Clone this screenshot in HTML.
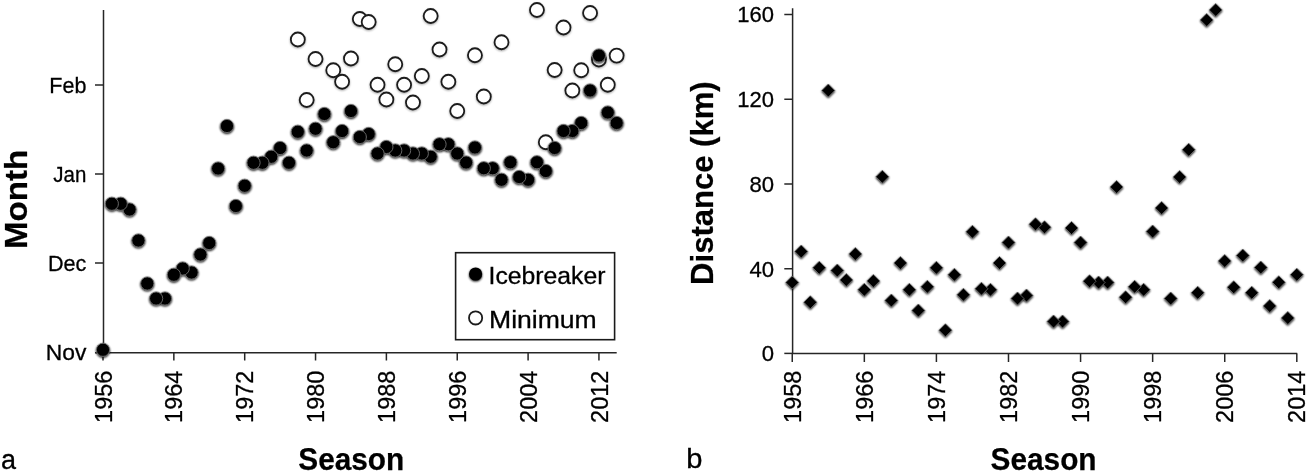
<!DOCTYPE html>
<html lang="en"><head><meta charset="utf-8"><title>Season charts</title>
<style>
html,body{margin:0;padding:0;background:#fff;}
body{width:1309px;height:473px;overflow:hidden;}
svg{display:block;}
text{font-family:"Liberation Sans",sans-serif;fill:#000;stroke:#000;stroke-width:0.3px;}
.tl{font-size:22.5px;}
.xl{font-size:23.8px;}
.lg{font-size:24.2px;}
.ti{font-size:31px;font-weight:bold;fill:#000;stroke:#000;stroke-width:0.25px;}
.pl{font-size:27px;}
.ax{stroke:#262626;stroke-width:1.5;fill:none;}
</style></head><body>
<svg width="1309" height="473" viewBox="0 0 1309 473">
<defs>
<filter id="sh" x="-40%" y="-40%" width="180%" height="180%">
<feGaussianBlur in="SourceAlpha" stdDeviation="1.25" result="b"/>
<feOffset in="b" dx="0.2" dy="0.8" result="o"/>
<feComponentTransfer in="o" result="s"><feFuncA type="linear" slope="0.95"/></feComponentTransfer>
<feMerge><feMergeNode in="s"/><feMergeNode in="SourceGraphic"/></feMerge>
</filter>
<filter id="sh2" x="-40%" y="-40%" width="180%" height="180%">
<feGaussianBlur in="SourceAlpha" stdDeviation="1" result="b"/>
<feOffset in="b" dx="0.3" dy="1" result="o"/>
<feComponentTransfer in="o" result="s"><feFuncA type="linear" slope="0.35"/></feComponentTransfer>
<feMerge><feMergeNode in="s"/><feMergeNode in="SourceGraphic"/></feMerge>
</filter>
</defs>
<rect width="1309" height="473" fill="#fff"/>

<g class="ax">
<path d="M103.5 10V353"/>
<path d="M102.8 352.8H616.7"/>
<path d="M95 85H103.5"/>
<path d="M95 174H103.5"/>
<path d="M95 263H103.5"/>
<path d="M95 352.8H103.5"/>
<path d="M103.00 352.8V360.5"/>
<path d="M173.85 352.8V360.5"/>
<path d="M244.70 352.8V360.5"/>
<path d="M315.54 352.8V360.5"/>
<path d="M386.39 352.8V360.5"/>
<path d="M457.24 352.8V360.5"/>
<path d="M528.09 352.8V360.5"/>
<path d="M598.94 352.8V360.5"/>
</g>
<text class="tl" x="49.35" y="92.8" textLength="37.05" lengthAdjust="spacingAndGlyphs">Feb</text>
<text class="tl" x="53.33" y="181.8" textLength="33.07" lengthAdjust="spacingAndGlyphs">Jan</text>
<text class="tl" x="48.00" y="270.8" textLength="38.40" lengthAdjust="spacingAndGlyphs">Dec</text>
<text class="tl" x="45.78" y="360.3" textLength="40.62" lengthAdjust="spacingAndGlyphs">Nov</text>
<text class="xl" transform="translate(111.60 422.9) rotate(-90)" textLength="52.2" lengthAdjust="spacingAndGlyphs">1956</text>
<text class="xl" transform="translate(182.45 422.9) rotate(-90)" textLength="52.2" lengthAdjust="spacingAndGlyphs">1964</text>
<text class="xl" transform="translate(253.30 422.9) rotate(-90)" textLength="52.2" lengthAdjust="spacingAndGlyphs">1972</text>
<text class="xl" transform="translate(324.14 422.9) rotate(-90)" textLength="52.2" lengthAdjust="spacingAndGlyphs">1980</text>
<text class="xl" transform="translate(394.99 422.9) rotate(-90)" textLength="52.2" lengthAdjust="spacingAndGlyphs">1988</text>
<text class="xl" transform="translate(465.84 422.9) rotate(-90)" textLength="52.2" lengthAdjust="spacingAndGlyphs">1996</text>
<text class="xl" transform="translate(536.69 422.9) rotate(-90)" textLength="52.2" lengthAdjust="spacingAndGlyphs">2004</text>
<text class="xl" transform="translate(607.54 422.9) rotate(-90)" textLength="52.2" lengthAdjust="spacingAndGlyphs">2012</text>
<text class="ti" style="font-size:32.2px" transform="translate(27.2 249.0) rotate(-90)" textLength="99.12" lengthAdjust="spacingAndGlyphs">Month</text>
<text class="ti" style="font-size:32.2px" transform="translate(298.3 469.6)" textLength="105.95" lengthAdjust="spacingAndGlyphs">Season</text>
<text class="pl" x="1" y="468.5">a</text>
<g filter="url(#sh2)" fill="#fff" stroke="#1c1c1c" stroke-width="1.8">
<circle cx="297.83" cy="39.5" r="7"/>
<circle cx="306.69" cy="100" r="7"/>
<circle cx="315.54" cy="59" r="7"/>
<circle cx="333.26" cy="70.25" r="7"/>
<circle cx="342.11" cy="81.75" r="7"/>
<circle cx="350.97" cy="58.5" r="7"/>
<circle cx="359.82" cy="19" r="7"/>
<circle cx="368.68" cy="22" r="7"/>
<circle cx="377.54" cy="84.75" r="7"/>
<circle cx="386.39" cy="99.5" r="7"/>
<circle cx="395.25" cy="64.25" r="7"/>
<circle cx="404.10" cy="84.75" r="7"/>
<circle cx="412.96" cy="102.5" r="7"/>
<circle cx="421.82" cy="76" r="7"/>
<circle cx="430.67" cy="16" r="7"/>
<circle cx="439.53" cy="49.5" r="7"/>
<circle cx="448.38" cy="81.75" r="7"/>
<circle cx="457.24" cy="111" r="7"/>
<circle cx="474.95" cy="55.25" r="7"/>
<circle cx="483.81" cy="96.5" r="7"/>
<circle cx="501.52" cy="42.25" r="7"/>
<circle cx="536.94" cy="10" r="7"/>
<circle cx="545.80" cy="142.25" r="7"/>
<circle cx="554.66" cy="70" r="7"/>
<circle cx="563.51" cy="27.5" r="7"/>
<circle cx="572.37" cy="90.5" r="7"/>
<circle cx="581.22" cy="70.25" r="7"/>
<circle cx="590.08" cy="13" r="7"/>
<circle cx="598.94" cy="59.5" r="7"/>
<circle cx="607.79" cy="84.75" r="7"/>
<circle cx="616.65" cy="55.6" r="7"/>
</g>
<g filter="url(#sh)" fill="#000" stroke="#707070" stroke-width="0.9">
<circle cx="616.65" cy="123" r="6.6"/>
<circle cx="607.79" cy="112.5" r="6.6"/>
<circle cx="598.94" cy="55.5" r="6.6"/>
<circle cx="590.08" cy="90.5" r="6.6"/>
<circle cx="581.22" cy="123" r="6.6"/>
<circle cx="572.37" cy="131" r="6.6"/>
<circle cx="563.51" cy="131" r="6.6"/>
<circle cx="554.66" cy="148" r="6.6"/>
<circle cx="545.80" cy="171" r="6.6"/>
<circle cx="536.94" cy="162.25" r="6.6"/>
<circle cx="528.09" cy="179.75" r="6.6"/>
<circle cx="519.23" cy="177" r="6.6"/>
<circle cx="510.38" cy="162.25" r="6.6"/>
<circle cx="501.52" cy="179.75" r="6.6"/>
<circle cx="492.66" cy="168.25" r="6.6"/>
<circle cx="483.81" cy="168.25" r="6.6"/>
<circle cx="474.95" cy="147.5" r="6.6"/>
<circle cx="466.10" cy="162.5" r="6.6"/>
<circle cx="457.24" cy="153.5" r="6.6"/>
<circle cx="448.38" cy="144.25" r="6.6"/>
<circle cx="439.53" cy="144.25" r="6.6"/>
<circle cx="430.67" cy="156.75" r="6.6"/>
<circle cx="421.82" cy="153.5" r="6.6"/>
<circle cx="412.96" cy="153.5" r="6.6"/>
<circle cx="404.10" cy="150.5" r="6.6"/>
<circle cx="395.25" cy="150.5" r="6.6"/>
<circle cx="386.39" cy="147" r="6.6"/>
<circle cx="377.54" cy="153.5" r="6.6"/>
<circle cx="368.68" cy="134" r="6.6"/>
<circle cx="359.82" cy="137" r="6.6"/>
<circle cx="350.97" cy="111" r="6.6"/>
<circle cx="342.11" cy="131" r="6.6"/>
<circle cx="333.26" cy="142.25" r="6.6"/>
<circle cx="324.40" cy="114" r="6.6"/>
<circle cx="315.54" cy="128.75" r="6.6"/>
<circle cx="306.69" cy="150.5" r="6.6"/>
<circle cx="297.83" cy="131.75" r="6.6"/>
<circle cx="288.98" cy="162.75" r="6.6"/>
<circle cx="280.12" cy="148" r="6.6"/>
<circle cx="271.26" cy="156.75" r="6.6"/>
<circle cx="262.41" cy="162.75" r="6.6"/>
<circle cx="253.55" cy="162.75" r="6.6"/>
<circle cx="244.70" cy="185.75" r="6.6"/>
<circle cx="235.84" cy="206" r="6.6"/>
<circle cx="226.98" cy="126" r="6.6"/>
<circle cx="218.13" cy="168.5" r="6.6"/>
<circle cx="209.27" cy="243" r="6.6"/>
<circle cx="200.42" cy="254.5" r="6.6"/>
<circle cx="191.56" cy="272.5" r="6.6"/>
<circle cx="182.70" cy="268.5" r="6.6"/>
<circle cx="173.85" cy="274.75" r="6.6"/>
<circle cx="164.99" cy="298.5" r="6.6"/>
<circle cx="156.14" cy="298.5" r="6.6"/>
<circle cx="147.28" cy="283.5" r="6.6"/>
<circle cx="138.42" cy="240.5" r="6.6"/>
<circle cx="129.57" cy="209.5" r="6.6"/>
<circle cx="120.71" cy="203.75" r="6.6"/>
<circle cx="111.86" cy="203.75" r="6.6"/>
<circle cx="103.00" cy="349.8" r="6.6"/>
</g>
<rect x="455.6" y="252.7" width="159" height="87" fill="#fff" stroke="#1a1a1a" stroke-width="1.6"/>
<circle cx="475.6" cy="274" r="6.6" fill="#000" filter="url(#sh)"/>
<circle cx="475.6" cy="317.9" r="6.6" fill="#fff" stroke="#1c1c1c" stroke-width="1.8"/>
<text class="lg" x="488.60" y="284.4" textLength="116.80" lengthAdjust="spacingAndGlyphs">Icebreaker</text>
<text class="lg" x="489.00" y="327.8" textLength="107.74" lengthAdjust="spacingAndGlyphs">Minimum</text>
<g class="ax">
<path d="M792.6 8.2V354"/>
<path d="M791.9 353.4H1297.2"/>
<path d="M784.3 14.5H792.6"/>
<path d="M784.3 99.25H792.6"/>
<path d="M784.3 184H792.6"/>
<path d="M784.3 268.75H792.6"/>
<path d="M784.3 353.4H792.6"/>
<path d="M792.25 353.4V362"/>
<path d="M864.33 353.4V362"/>
<path d="M936.41 353.4V362"/>
<path d="M1008.49 353.4V362"/>
<path d="M1080.57 353.4V362"/>
<path d="M1152.65 353.4V362"/>
<path d="M1224.73 353.4V362"/>
<path d="M1296.81 353.4V362"/>
</g>
<text class="tl" x="774" y="22.3" text-anchor="end" textLength="36.7" lengthAdjust="spacingAndGlyphs">160</text>
<text class="tl" x="774" y="107.05" text-anchor="end" textLength="36.7" lengthAdjust="spacingAndGlyphs">120</text>
<text class="tl" x="774" y="191.8" text-anchor="end" textLength="24.6" lengthAdjust="spacingAndGlyphs">80</text>
<text class="tl" x="774" y="276.55" text-anchor="end" textLength="24.6" lengthAdjust="spacingAndGlyphs">40</text>
<text class="tl" x="774" y="360.8" text-anchor="end" textLength="12.3" lengthAdjust="spacingAndGlyphs">0</text>
<text class="xl" transform="translate(800.85 422.9) rotate(-90)" textLength="52.2" lengthAdjust="spacingAndGlyphs">1958</text>
<text class="xl" transform="translate(872.93 422.9) rotate(-90)" textLength="52.2" lengthAdjust="spacingAndGlyphs">1966</text>
<text class="xl" transform="translate(945.01 422.9) rotate(-90)" textLength="52.2" lengthAdjust="spacingAndGlyphs">1974</text>
<text class="xl" transform="translate(1017.09 422.9) rotate(-90)" textLength="52.2" lengthAdjust="spacingAndGlyphs">1982</text>
<text class="xl" transform="translate(1089.17 422.9) rotate(-90)" textLength="52.2" lengthAdjust="spacingAndGlyphs">1990</text>
<text class="xl" transform="translate(1161.25 422.9) rotate(-90)" textLength="52.2" lengthAdjust="spacingAndGlyphs">1998</text>
<text class="xl" transform="translate(1233.33 422.9) rotate(-90)" textLength="52.2" lengthAdjust="spacingAndGlyphs">2006</text>
<text class="xl" transform="translate(1305.41 422.9) rotate(-90)" textLength="52.2" lengthAdjust="spacingAndGlyphs">2014</text>
<text class="ti" style="font-size:32.2px" transform="translate(712.6 284.9) rotate(-90)" textLength="203.49" lengthAdjust="spacingAndGlyphs">Distance (km)</text>
<text class="ti" style="font-size:32.2px" transform="translate(990.6 469.6)" textLength="105.95" lengthAdjust="spacingAndGlyphs">Season</text>
<text class="pl" x="686.3" y="468" textLength="16.2" lengthAdjust="spacingAndGlyphs">b</text>
<g filter="url(#sh)" fill="#000" stroke="#707070" stroke-width="0.8">
<path d="M1296.81 268.25L1303.31 274.75L1296.81 281.25L1290.31 274.75Z"/>
<path d="M1287.80 311.5L1294.30 318L1287.80 324.5L1281.30 318Z"/>
<path d="M1278.79 275.75L1285.29 282.25L1278.79 288.75L1272.29 282.25Z"/>
<path d="M1269.78 299.5L1276.28 306L1269.78 312.5L1263.28 306Z"/>
<path d="M1260.77 261.0L1267.27 267.5L1260.77 274.0L1254.27 267.5Z"/>
<path d="M1251.76 286.25L1258.26 292.75L1251.76 299.25L1245.26 292.75Z"/>
<path d="M1242.75 249.0L1249.25 255.5L1242.75 262.0L1236.25 255.5Z"/>
<path d="M1233.74 280.75L1240.24 287.25L1233.74 293.75L1227.24 287.25Z"/>
<path d="M1224.73 254.5L1231.23 261L1224.73 267.5L1218.23 261Z"/>
<path d="M1215.72 3.5L1222.22 10L1215.72 16.5L1209.22 10Z"/>
<path d="M1206.71 13.5L1213.21 20L1206.71 26.5L1200.21 20Z"/>
<path d="M1197.70 286.25L1204.20 292.75L1197.70 299.25L1191.20 292.75Z"/>
<path d="M1188.69 143.25L1195.19 149.75L1188.69 156.25L1182.19 149.75Z"/>
<path d="M1179.68 170.5L1186.18 177L1179.68 183.5L1173.18 177Z"/>
<path d="M1170.67 292.0L1177.17 298.5L1170.67 305.0L1164.17 298.5Z"/>
<path d="M1161.66 201.5L1168.16 208L1161.66 214.5L1155.16 208Z"/>
<path d="M1152.65 225.0L1159.15 231.5L1152.65 238.0L1146.15 231.5Z"/>
<path d="M1143.64 283.25L1150.14 289.75L1143.64 296.25L1137.14 289.75Z"/>
<path d="M1134.63 280.25L1141.13 286.75L1134.63 293.25L1128.13 286.75Z"/>
<path d="M1125.62 290.75L1132.12 297.25L1125.62 303.75L1119.12 297.25Z"/>
<path d="M1116.61 180.5L1123.11 187L1116.61 193.5L1110.11 187Z"/>
<path d="M1107.60 276.0L1114.10 282.5L1107.60 289.0L1101.10 282.5Z"/>
<path d="M1098.59 276.0L1105.09 282.5L1098.59 289.0L1092.09 282.5Z"/>
<path d="M1089.58 274.75L1096.08 281.25L1089.58 287.75L1083.08 281.25Z"/>
<path d="M1080.57 236.0L1087.07 242.5L1080.57 249.0L1074.07 242.5Z"/>
<path d="M1071.56 221.5L1078.06 228L1071.56 234.5L1065.06 228Z"/>
<path d="M1062.55 315.0L1069.05 321.5L1062.55 328.0L1056.05 321.5Z"/>
<path d="M1053.54 315.0L1060.04 321.5L1053.54 328.0L1047.04 321.5Z"/>
<path d="M1044.53 220.75L1051.03 227.25L1044.53 233.75L1038.03 227.25Z"/>
<path d="M1035.52 217.75L1042.02 224.25L1035.52 230.75L1029.02 224.25Z"/>
<path d="M1026.51 289.0L1033.01 295.5L1026.51 302.0L1020.01 295.5Z"/>
<path d="M1017.50 292.0L1024.00 298.5L1017.50 305.0L1011.00 298.5Z"/>
<path d="M1008.49 236.0L1014.99 242.5L1008.49 249.0L1001.99 242.5Z"/>
<path d="M999.48 256.5L1005.98 263L999.48 269.5L992.98 263Z"/>
<path d="M990.47 283.25L996.97 289.75L990.47 296.25L983.97 289.75Z"/>
<path d="M981.46 282.25L987.96 288.75L981.46 295.25L974.96 288.75Z"/>
<path d="M972.45 225.25L978.95 231.75L972.45 238.25L965.95 231.75Z"/>
<path d="M963.44 288.25L969.94 294.75L963.44 301.25L956.94 294.75Z"/>
<path d="M954.43 268.25L960.93 274.75L954.43 281.25L947.93 274.75Z"/>
<path d="M945.42 323.75L951.92 330.25L945.42 336.75L938.92 330.25Z"/>
<path d="M936.41 261.25L942.91 267.75L936.41 274.25L929.91 267.75Z"/>
<path d="M927.40 280.25L933.90 286.75L927.40 293.25L920.90 286.75Z"/>
<path d="M918.39 304.0L924.89 310.5L918.39 317.0L911.89 310.5Z"/>
<path d="M909.38 283.25L915.88 289.75L909.38 296.25L902.88 289.75Z"/>
<path d="M900.37 256.5L906.87 263L900.37 269.5L893.87 263Z"/>
<path d="M891.36 294.0L897.86 300.5L891.36 307.0L884.86 300.5Z"/>
<path d="M882.35 170.25L888.85 176.75L882.35 183.25L875.85 176.75Z"/>
<path d="M873.34 274.5L879.84 281L873.34 287.5L866.84 281Z"/>
<path d="M864.33 283.25L870.83 289.75L864.33 296.25L857.83 289.75Z"/>
<path d="M855.32 247.5L861.82 254L855.32 260.5L848.82 254Z"/>
<path d="M846.31 273.5L852.81 280L846.31 286.5L839.81 280Z"/>
<path d="M837.30 264.0L843.80 270.5L837.30 277.0L830.80 270.5Z"/>
<path d="M828.29 84.0L834.79 90.5L828.29 97.0L821.79 90.5Z"/>
<path d="M819.28 261.25L825.78 267.75L819.28 274.25L812.78 267.75Z"/>
<path d="M810.27 295.75L816.77 302.25L810.27 308.75L803.77 302.25Z"/>
<path d="M801.26 245.0L807.76 251.5L801.26 258.0L794.76 251.5Z"/>
<path d="M792.25 276.0L798.75 282.5L792.25 289.0L785.75 282.5Z"/>
</g>
</svg></body></html>
